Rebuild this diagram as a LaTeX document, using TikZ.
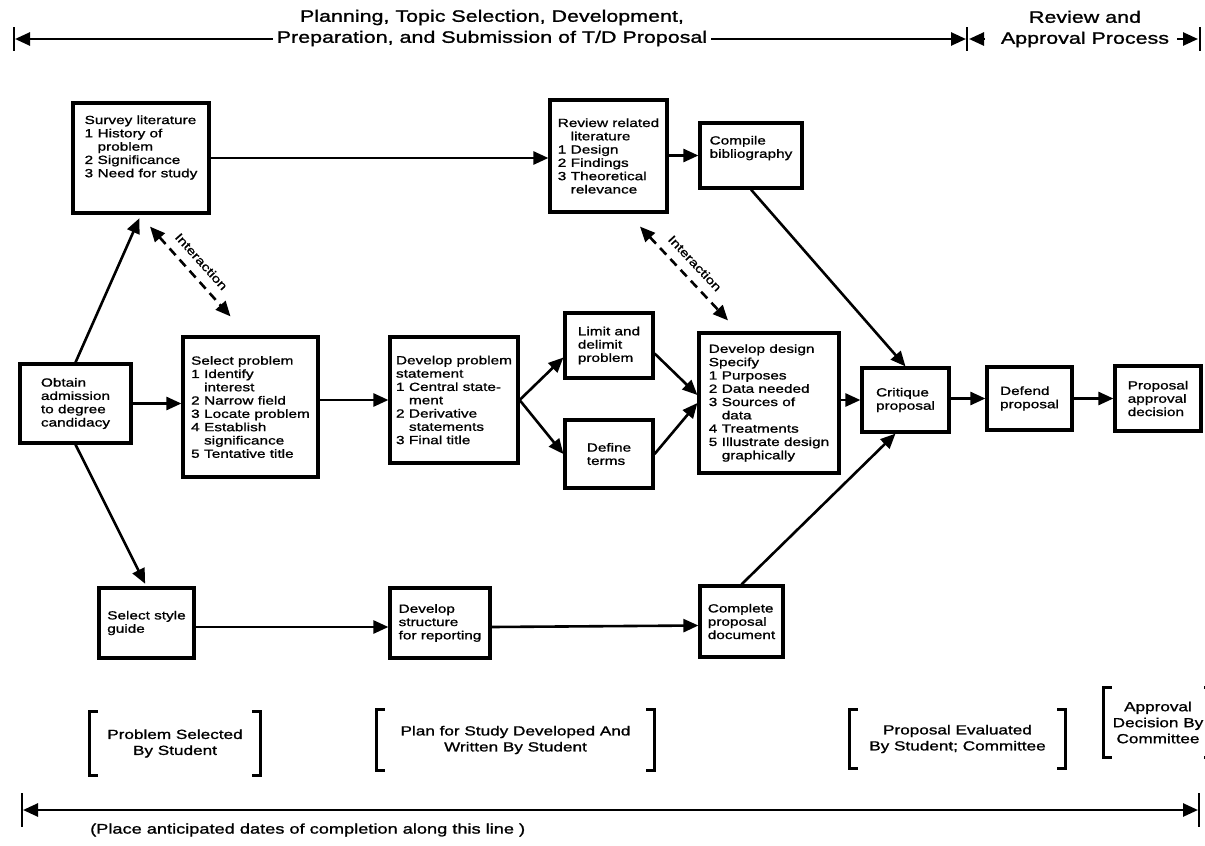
\documentclass[tikz,border=0pt]{standalone}
\usepackage{fontspec}
\setmainfont{Liberation Sans}[FakeStretch=1.3, FakeBold=1.2]
\usetikzlibrary{arrows.meta}
\newcommand{\itm}[1]{\makebox[1.1em][l]{#1}}
\newcommand{\ind}{\hspace*{1.1em}}

\begin{document}
\begin{tikzpicture}[x=1pt, y=-1pt]
        \tikzstyle{blk}=[draw, line width=3.2pt, align=left, inner sep=2pt, font=\fontsize{11.8}{13.3}\selectfont]
        \tikzstyle{arr}=[line width=2.6pt, -{Triangle[length=15pt,width=13pt]}]
        \tikzstyle{dbl}=[line width=2.6pt, dash pattern=on 9pt off 6pt, {Triangle[length=15pt,width=13pt]}-{Triangle[length=15pt,width=13pt]}]
        \tikzstyle{hdtxt}=[align=center, inner sep=4pt, font=\fontsize{16.5}{21}\selectfont]
        \tikzstyle{brtxt}=[align=center, inner sep=0pt, font=\fontsize{13.2}{16}\selectfont]
        \tikzstyle{bar}=[line width=2.6pt]
        \tikzstyle{brk}=[line width=3.2pt]
        \path[use as bounding box] (0,0) rectangle (1205,846);
        \clip (0,0) rectangle (1205,846);
        % header
        \node[hdtxt] (plan) at (492,28) {Planning, Topic Selection, Development,\\Preparation, and Submission of T/D Proposal};
        \node[hdtxt] (rv) at (1085,29) {Review and\\Approval Process};
        \coordinate (barL) at (14,39);
        \coordinate (barM) at (967,39);
        \coordinate (barR) at (1200,39);
        \draw[bar] ([yshift=12pt]barL) -- ([yshift=-12pt]barL);
        \draw[bar] ([yshift=12pt]barM) -- ([yshift=-12pt]barM);
        \draw[bar] ([yshift=12pt]barR) -- ([yshift=-12pt]barR);
        \draw[arr] (plan.west |- barL) -- ([xshift=1pt]barL);
        \draw[arr] (plan.east |- barM) -- ([xshift=-1pt]barM);
        \draw[arr, shorten <=12pt] (rv.west |- barM) -- ([xshift=2pt]barM);
        \draw[arr, shorten <=4pt] (rv.east |- barR) -- ([xshift=-2pt]barR);
        % boxes
        \node[blk, minimum width=111, minimum height=79] (obtain) at (75.5,403.5) {Obtain\\admission\\to degree\\candidacy};
        \node[blk, minimum width=136, minimum height=110] (survey) at (141,158) {Survey literature\\\itm{1}History of\\\ind problem\\\itm{2}Significance\\\itm{3}Need for study\\[10pt]\mbox{}};
        \node[blk, minimum width=135, minimum height=140] (select) at (250.5,407) {Select problem\\\itm{1}Identify\\\ind interest\\\itm{2}Narrow field\\\itm{3}Locate problem\\\itm{4}Establish\\\ind significance\\\itm{5}Tentative title};
        \node[blk, minimum width=128, minimum height=126] (devstmt) at (454,400) {Develop problem\\statement\\\itm{1}Central state-\\\ind ment\\\itm{2}Derivative\\\ind statements\\\itm{3}Final title};
        \node[blk, minimum width=117, minimum height=112] (review) at (608.5,156) {Review related\\\ind literature\\\itm{1}Design\\\itm{2}Findings\\\itm{3}Theoretical\\\ind relevance};
        \node[blk, minimum width=102, minimum height=65] (compile) at (751,155.5) {Compile\\bibliography\\[4pt]\mbox{}};
        \node[blk, minimum width=88, minimum height=65] (limit) at (609,345.5) {Limit and\\delimit\\problem};
        \node[blk, minimum width=88, minimum height=68] (define) at (609,454) {Define\\terms};
        \node[blk, minimum width=140, minimum height=140] (design) at (769,403) {Develop design\\Specify\\\itm{1}Purposes\\\itm{2}Data needed\\\itm{3}Sources of\\\ind data\\\itm{4}Treatments\\\itm{5}Illustrate design\\\ind graphically};
        \node[blk, minimum width=87, minimum height=64] (critique) at (905.5,400) {Critique\\proposal};
        \node[blk, minimum width=85, minimum height=63] (defend) at (1029.5,398.5) {Defend\\proposal};
        \node[blk, minimum width=86, minimum height=65] (approve) at (1158,398.5) {Proposal\\approval\\decision};
        \node[blk, minimum width=95, minimum height=70] (style) at (146.5,623) {Select style\\guide};
        \node[blk, minimum width=100, minimum height=70] (structure) at (440,623) {Develop\\structure\\for reporting};
        \node[blk, minimum width=83, minimum height=71] (complete) at (741.5,621.5) {Complete\\proposal\\document};
        % connectors
        \draw[arr, shorten >=4pt] (obtain.north) -- (survey.south);
        \draw[arr, shorten >=3pt] (obtain.south) -- (style.north);
        \draw[arr] (obtain.east) -- (obtain.east -| select.west);
        \draw[arr] (select.east |- devstmt.west) -- (devstmt.west);
        \draw[arr] (survey.east) -- (survey.east -| review.west);
        \draw[arr] (review.east |- compile.west) -- (compile.west);
        \draw[arr] (compile.south) -- (critique.north);
        \draw[arr] (devstmt.east) -- ([yshift=-12pt]limit.west);
        \draw[arr] (devstmt.east) -- (define.west);
        \draw[arr] ([yshift=-8pt]limit.east) -- ([yshift=8pt]design.west);
        \draw[arr] (define.east) -- (design.west);
        \draw[arr] (design.east |- critique.west) -- (critique.west);
        \draw[arr] (critique.east |- defend.west) -- (defend.west);
        \draw[arr] (defend.east |- approve.west) -- (approve.west);
        \draw[arr] ([yshift=-4pt]style.east) -- ([yshift=-4pt]structure.west);
        \draw[arr] ([yshift=-4pt]structure.east) -- ([yshift=-4pt]complete.west);
        \draw[arr] (complete.north) -- ([xshift=-10pt]critique.south);
        \draw[dbl] ([xshift=9pt,yshift=-12pt]survey.south) -- ([xshift=-20pt,yshift=19pt]select.north)
            node[midway, sloped, above=6pt, font=\fontsize{11.8}{13.3}\selectfont] {Interaction};
        \draw[dbl] ([xshift=31.5pt,yshift=-13pt]review.south) -- ([xshift=-41pt,yshift=11pt]design.north)
            node[midway, sloped, above=6pt, font=\fontsize{11.8}{13.3}\selectfont] {Interaction};
        % brackets
        \node[brtxt, minimum width=170, minimum height=63] (brk1) at (175,743.5) {Problem Selected\\By Student};
        \node[brtxt, minimum width=277, minimum height=60] (brk2) at (515.5,740) {Plan for Study Developed And\\Written By Student};
        \node[brtxt, minimum width=215, minimum height=58] (brk3) at (957.5,739) {Proposal Evaluated\\By Student; Committee};
        \node[brtxt, minimum width=108, minimum height=69] (brk4) at (1158,722.5) {Approval\\Decision By\\Committee};
        \draw[brk] ([xshift=8pt]brk1.north west) -- (brk1.north west) -- (brk1.south west) -- ++(8,0);
        \draw[brk] ([xshift=-8pt]brk1.north east) -- (brk1.north east) -- (brk1.south east) -- ++(-8,0);
        \draw[brk] ([xshift=8pt]brk2.north west) -- (brk2.north west) -- (brk2.south west) -- ++(8,0);
        \draw[brk] ([xshift=-8pt]brk2.north east) -- (brk2.north east) -- (brk2.south east) -- ++(-8,0);
        \draw[brk] ([xshift=8pt]brk3.north west) -- (brk3.north west) -- (brk3.south west) -- ++(8,0);
        \draw[brk] ([xshift=-8pt]brk3.north east) -- (brk3.north east) -- (brk3.south east) -- ++(-8,0);
        \draw[brk] ([xshift=8pt]brk4.north west) -- (brk4.north west) -- (brk4.south west) -- ++(8,0);
        \draw[brk] ([xshift=-8pt]brk4.north east) -- (brk4.north east) -- (brk4.south east) -- ++(-8,0);
        % time line
        \coordinate (lineL) at (22,810);
        \coordinate (lineR) at (1199,810);
        \draw[bar] ([yshift=17pt]lineL) -- ([yshift=-17pt]lineL);
        \draw[bar] ([yshift=17pt]lineR) -- ([yshift=-17pt]lineR);
        \draw[dbl, dash pattern={}] ([xshift=1pt]lineL) -- ([xshift=-1pt]lineR);
        \node[anchor=west, inner sep=0pt, font=\fontsize{14}{16}\selectfont] (note) at (90,830) {(Place anticipated dates of completion along this line )};
\end{tikzpicture}
\end{document}
